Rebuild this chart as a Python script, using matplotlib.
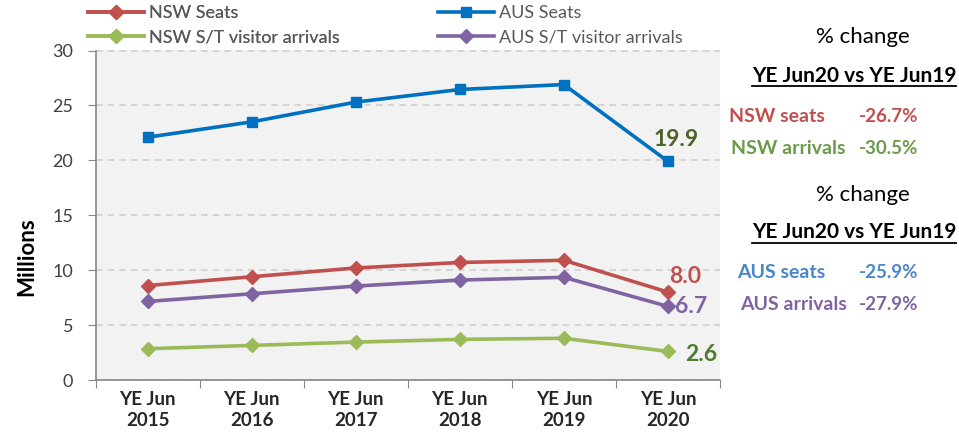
import matplotlib

matplotlib.use("Agg")
import matplotlib.pyplot as plt
from matplotlib.lines import Line2D

plt.rcParams.update({
    "font.family": ["Lato", "DejaVu Sans"],
    "font.size": 11,
})

years = ["YE Jun\n2015", "YE Jun\n2016", "YE Jun\n2017",
         "YE Jun\n2018", "YE Jun\n2019", "YE Jun\n2020"]
nsw_seats = [8.6, 9.4, 10.2, 10.7, 10.9, 8.0]
aus_seats = [22.1, 23.5, 25.3, 26.45, 26.9, 19.9]
nsw_arrivals = [2.85, 3.15, 3.45, 3.7, 3.8, 2.6]
aus_arrivals = [7.15, 7.85, 8.55, 9.1, 9.35, 6.7]

nsw_changes = [("NSW seats", "-26.7%"), ("NSW arrivals", "-30.5%")]
aus_changes = [("AUS seats", "-25.9%"), ("AUS arrivals", "-27.9%")]

RED = "#C0504D"
BLUE = "#0070C0"
GREEN = "#9BBB59"
PURPLE = "#8064A2"
DARK_GREEN = "#4F7A32"

W, H = 959, 444
fig = plt.figure(figsize=(W / 100, H / 100), dpi=100)
ax = fig.add_axes([95.5 / W, 1 - 380 / H, (720 - 95.5) / W, 329.5 / H])
ax.set_facecolor("#F2F2F2")

x = list(range(len(years)))
l1, = ax.plot(x, nsw_seats, color=RED, lw=2.6, marker="D", ms=7,
              label="NSW Seats")
l2, = ax.plot(x, nsw_arrivals, color=GREEN, lw=2.6, marker="D", ms=7,
              label="NSW S/T visitor arrivals")
l3, = ax.plot(x, aus_seats, color=BLUE, lw=2.6, marker="s", ms=6.5,
              label="AUS Seats")
l4, = ax.plot(x, aus_arrivals, color=PURPLE, lw=2.6, marker="D", ms=7,
              label="AUS S/T visitor arrivals")

# end-point labels
lab = dict(textcoords="offset points", ha="center", va="center",
           fontsize=16.5, fontweight="bold")
ax.annotate(f"{aus_seats[-1]:.1f}", (x[-1], aus_seats[-1]), xytext=(6, 16),
            color="#4F6228", **lab)
ax.annotate(f"{nsw_seats[-1]:.1f}", (x[-1], nsw_seats[-1]), xytext=(12.5, 11),
            color=RED, **lab)
ax.annotate(f"{aus_arrivals[-1]:.1f}", (x[-1], aus_arrivals[-1]), xytext=(16.5, 0),
            color=PURPLE, **lab)
ax.annotate(f"{nsw_arrivals[-1]:.1f}", (x[-1], nsw_arrivals[-1]), xytext=(24, -2),
            color=DARK_GREEN, **lab)

ax.set_xlim(-0.5, len(years) - 0.5)
ax.set_ylim(0, 30)
ax.set_yticks(range(0, 31, 5))
ax.set_xticks([i - 0.5 for i in range(len(years) + 1)])
ax.set_xticklabels([])
ax.set_xticks(x, minor=True)
ax.set_xticklabels(years, minor=True, fontweight="bold", fontsize=13.5,
                   color="#262626", linespacing=1.25)
ax.tick_params(axis="x", which="minor", length=0, pad=8)
ax.tick_params(axis="x", which="major", length=6, color="#868686")
ax.tick_params(axis="y", length=6, color="#868686", labelsize=13,
               labelcolor="#404040", pad=10)
ax.yaxis.grid(True, ls=(0, (4, 3)), color="#D0D0D0", lw=1.2)
ax.set_axisbelow(True)
for side in ["top", "right"]:
    ax.spines[side].set_visible(False)
for side in ["left", "bottom"]:
    ax.spines[side].set_color("#868686")
    ax.spines[side].set_linewidth(1.2)

fig.text(27 / W, 1 - 257 / H, "Millions", rotation=90, ha="center",
         va="center", fontsize=16, fontweight="bold")

# legend, two columns placed separately
leg_kw = dict(loc="upper left", frameon=False, handlelength=3.1,
              handletextpad=0.3, labelspacing=0.45, borderpad=0,
              borderaxespad=0, fontsize=13, labelcolor="#595959")
leg1 = fig.legend(handles=[l1, l2], bbox_to_anchor=(88 / W, 1 - 5 / H),
                  **leg_kw)
fig.add_artist(leg1)
fig.legend(handles=[l3, l4], bbox_to_anchor=(438 / W, 1 - 5 / H), **leg_kw)

# right-hand summary text
blocks = [(37, 75.5, 116, nsw_changes, [RED, "#6A9A4A"]),
          (195, 232, 272, aus_changes, ["#4A86C8", PURPLE])]
label_x = [[729, 731], [737, 740]]
fig.canvas.draw()
renderer = fig.canvas.get_renderer()
for bi, (y_pc, y_title, y_first, rows, colors) in enumerate(blocks):
    fig.text(863 / W, 1 - y_pc / H, "% change", ha="center", va="center",
             fontsize=16)
    t = fig.text(854 / W, 1 - y_title / H, "YE Jun20 vs YE Jun19",
                 ha="center", va="center", fontsize=15, fontweight="bold")
    bb = t.get_window_extent(renderer)
    uy = (bb.y0 - 1) / H
    fig.add_artist(Line2D([bb.x0 / W, bb.x1 / W], [uy, uy], color="black",
                          lw=1.3, transform=fig.transFigure))
    for ri, (name, val) in enumerate(rows):
        yy = 1 - (y_first + ri * 32) / H
        fig.text(label_x[bi][ri] / W, yy, name, ha="left", va="center",
                 fontsize=14, fontweight="bold", color=colors[ri])
        fig.text(859 / W, yy, val, ha="left", va="center",
                 fontsize=13.5, fontweight="bold", color=colors[ri])

fig.savefig("out.png", dpi=100)
